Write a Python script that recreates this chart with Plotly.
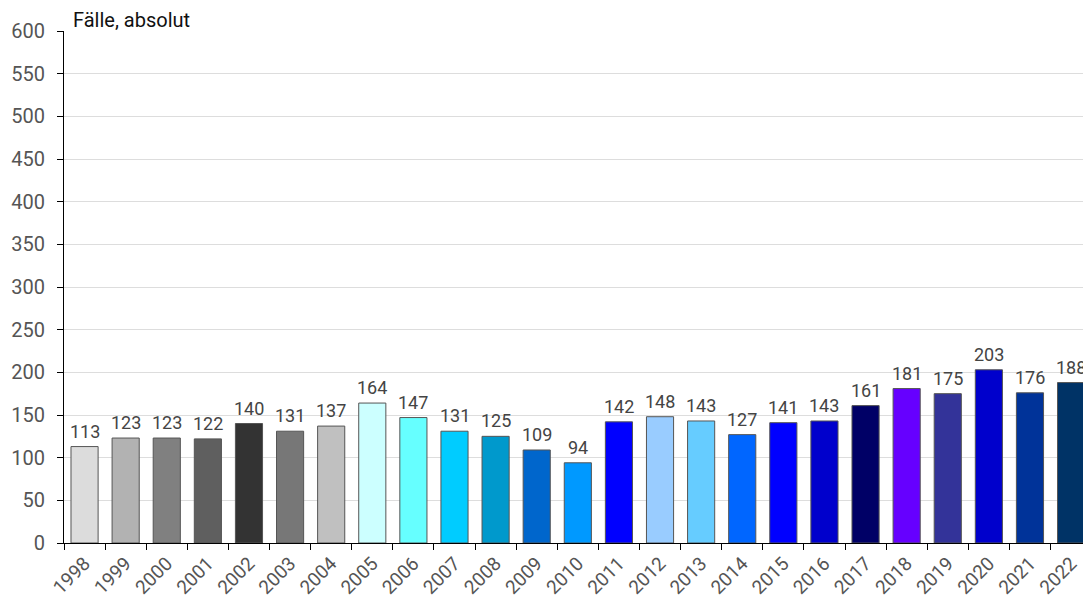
import plotly.graph_objects as go

years = [str(y) for y in range(1998, 2023)]
cases = [113, 123, 123, 122, 140, 131, 137, 164, 147, 131, 125, 109, 94, 142, 148, 143,
         127, 141, 143, 161, 181, 175, 203, 176, 188]
colors = ["#dcdcdc", "#b2b2b2", "#808080", "#5f5f5f", "#333333", "#777777", "#c0c0c0",
          "#ccffff", "#66ffff", "#00ccff", "#0099cc", "#0066cc", "#0099ff", "#0000ff",
          "#99ccff", "#66ccff", "#0066ff", "#0000ff", "#0000cc", "#000066", "#6600ff",
          "#333399", "#0000cc", "#003399", "#003366"]
y_ticks = list(range(0, 601, 50))

fig = go.Figure(go.Bar(
    x=years, y=cases,
    marker=dict(color=colors, line=dict(color="#555555", width=1)),
    width=0.66,
))

# value labels placed through the category axis (index of each category)
value_labels = [dict(
    x=i, y=v, xref="x", yref="y", text=str(v), showarrow=False,
    xanchor="center", yanchor="bottom", yshift=3,
    font=dict(family="Roboto", size=18, color="#444444"),
) for i, v in enumerate(cases)]

fig.update_layout(
    width=1083, height=601,
    margin=dict(l=64, r=0, t=31, b=58),
    plot_bgcolor="white", paper_bgcolor="white",
    font=dict(family="Roboto", size=20, color="#555555"),
    showlegend=False,
    xaxis=dict(
        type="category", range=[-0.5, 24.29], tickangle=-45, automargin=False,
        tickson="boundaries", ticks="outside", ticklen=6, tickcolor="black",
        showline=True, linecolor="black", linewidth=1, showgrid=False,
        ticklabelstandoff=1,
        tickfont=dict(family="Roboto", size=19, color="#555555"),
    ),
    yaxis=dict(
        range=[0, 600], tickvals=y_ticks, ticks="outside", ticklen=6, tickcolor="black",
        showline=True, linecolor="black", linewidth=1, ticklabelstandoff=8,
        automargin=False,
        showgrid=True, gridcolor="#dddddd", gridwidth=1, zeroline=False,
        tickfont=dict(family="Roboto", size=20, color="#555555"),
    ),
    annotations=value_labels + [dict(
        text="Fälle, absolut", xref="paper", yref="paper", x=7/1019, y=1,
        xanchor="left", yanchor="bottom", showarrow=False, yshift=-3,
        font=dict(family="Roboto", size=20, color="#111111"),
    )],
)

fig.write_html("out.html")
